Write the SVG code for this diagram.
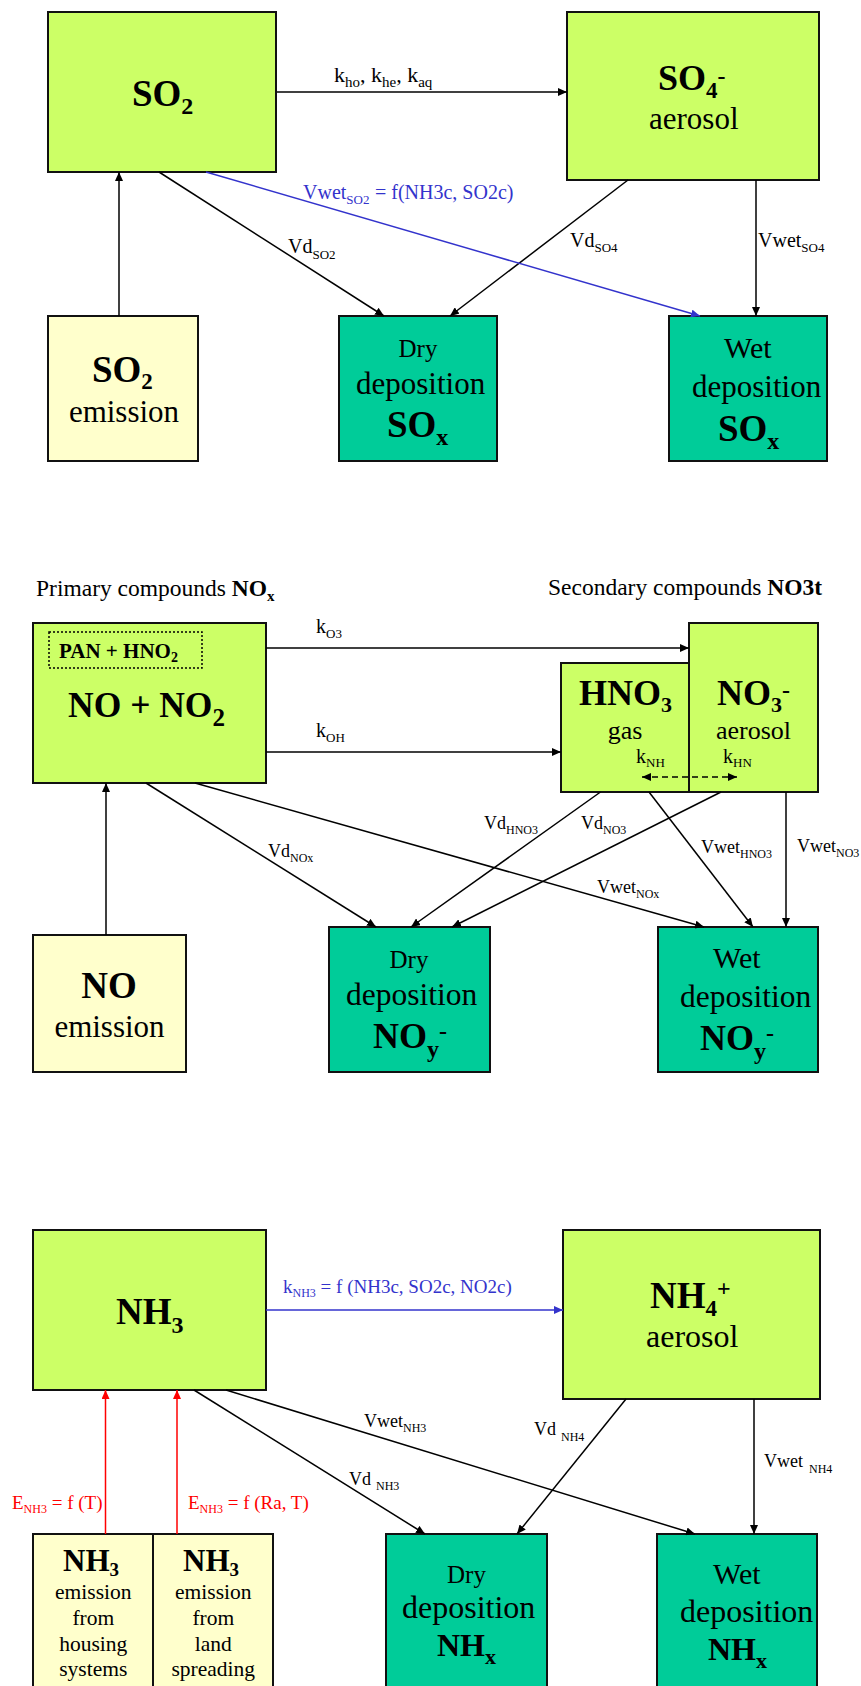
<svg xmlns="http://www.w3.org/2000/svg" width="861" height="1686" viewBox="0 0 861 1686">
<style>
text{font-family:"Liberation Serif","Times New Roman",serif;fill:#000}
.b{font-weight:bold}
.box{stroke:#111;stroke-width:2}
.g{fill:#CCFF66}.t{fill:#00CC99}.y{fill:#FFFFCC}
.ln{stroke:#000;stroke-width:1.5;fill:none}
.bl{stroke:#3333CC;stroke-width:1.5;fill:none}
.rd{stroke:#FF0000;stroke-width:1.5;fill:none}
.l20{font-size:20px}.l18{font-size:18px}.l19{font-size:19px}
.s13{font-size:13px}.s12{font-size:12px}
.blt{fill:#3333CC}.rdt{fill:#FF0000}
.m{text-anchor:middle}
</style>
<defs>
<marker id="ah" viewBox="0 0 9 8" refX="9" refY="4" markerWidth="9" markerHeight="8" markerUnits="userSpaceOnUse" orient="auto-start-reverse"><path d="M0,0 L9,4 L0,8 z" fill="#000"/></marker>
<marker id="ahb" viewBox="0 0 9 8" refX="9" refY="4" markerWidth="9" markerHeight="8" markerUnits="userSpaceOnUse" orient="auto"><path d="M0,0 L9,4 L0,8 z" fill="#3333CC"/></marker>
<marker id="ahr" viewBox="0 0 9 8" refX="9" refY="4" markerWidth="9" markerHeight="8" markerUnits="userSpaceOnUse" orient="auto"><path d="M0,0 L9,4 L0,8 z" fill="#FF0000"/></marker>
</defs>
<rect width="861" height="1686" fill="#fff"/>

<!-- Section 1 nodes -->
<g id="so2"><rect class="box g" x="48" y="12" width="228" height="160"/><text class="b" x="132" y="106" font-size="37">SO<tspan dy="8" font-size="24">2</tspan></text></g>
<g id="so4"><rect class="box g" x="567" y="12" width="252" height="168"/><text class="b" x="658" y="90" font-size="36">SO<tspan dy="8" font-size="23">4</tspan><tspan dy="-14" font-size="24">-</tspan></text><text x="649" y="129" font-size="31">aerosol</text></g>
<g id="so2emis"><rect class="box y" x="48" y="316" width="150" height="145"/><text class="b" x="92" y="382" font-size="37">SO<tspan dy="7" font-size="23">2</tspan></text><text class="m" x="124" y="422" font-size="31">emission</text></g>
<g id="drysox"><rect class="box t" x="339" y="316" width="158" height="145"/><text class="m" x="418" y="357" font-size="25">Dry</text><text x="356" y="394" font-size="31">deposition</text><text class="b" x="387" y="437" font-size="37">SO<tspan dy="8" font-size="24">x</tspan></text></g>
<g id="wetsox"><rect class="box t" x="669" y="316" width="158" height="145"/><text x="724" y="358" font-size="30">Wet</text><text x="692" y="397" font-size="31">deposition</text><text class="b" x="718" y="441" font-size="37">SO<tspan dy="8" font-size="24">x</tspan></text></g>

<!-- Section 2 nodes -->
<g id="headers"><text x="36" y="596" font-size="23.5">Primary compounds <tspan class="b">NO</tspan><tspan class="b" dy="5" font-size="15">x</tspan></text><text x="548" y="595" font-size="23.5">Secondary compounds <tspan class="b">NO3t</tspan></text></g>
<g id="nox"><rect class="box g" x="33" y="623" width="233" height="160"/><rect x="49" y="632" width="153" height="36" fill="none" stroke="#000" stroke-width="1.5" stroke-dasharray="2,2"/><text class="b" x="59" y="658" font-size="21">PAN + HNO<tspan dy="4" font-size="14">2</tspan></text><text class="b" x="68" y="717" font-size="35.5">NO + NO<tspan dy="9" font-size="25">2</tspan></text></g>
<g id="hno3"><rect class="box g" x="561" y="663" width="128" height="129"/><text class="b" x="579" y="705" font-size="36">HNO<tspan dy="7" font-size="22">3</tspan></text><text class="m" x="625" y="739" font-size="26">gas</text><text class="l20" x="636" y="763">k<tspan class="s13" dy="4">NH</tspan></text></g>
<g id="no3"><rect class="box g" x="689" y="623" width="129" height="169"/><text class="b" x="717" y="705" font-size="36">NO<tspan dy="7" font-size="22">3</tspan><tspan dy="-14" font-size="24">-</tspan></text><text x="716" y="739" font-size="26">aerosol</text><text class="l20" x="723" y="763">k<tspan class="s13" dy="4">HN</tspan></text></g>
<g id="noemis"><rect class="box y" x="33" y="935" width="153" height="137"/><text class="b m" x="109" y="998" font-size="37">NO</text><text class="m" x="109.5" y="1037" font-size="31">emission</text></g>
<g id="drynoy"><rect class="box t" x="329" y="927" width="161" height="145"/><text class="m" x="409" y="968" font-size="25">Dry</text><text x="346" y="1005" font-size="31.5">deposition</text><text class="b" x="373" y="1048" font-size="36">NO<tspan dy="9" font-size="24">y</tspan><tspan dy="-18" font-size="24">-</tspan></text></g>
<g id="wetnoy"><rect class="box t" x="658" y="927" width="160" height="145"/><text x="713" y="968" font-size="30">Wet</text><text x="680" y="1007" font-size="31.5">deposition</text><text class="b" x="700" y="1050" font-size="36">NO<tspan dy="9" font-size="24">y</tspan><tspan dy="-18" font-size="24">-</tspan></text></g>

<!-- Section 3 nodes -->
<g id="nh3"><rect class="box g" x="33" y="1230" width="233" height="160"/><text class="b" x="116" y="1324" font-size="37">NH<tspan dy="9" font-size="24">3</tspan></text></g>
<g id="nh4"><rect class="box g" x="563" y="1230" width="257" height="169"/><text class="b" x="650" y="1308" font-size="37">NH<tspan dy="8" font-size="23">4</tspan><tspan dy="-20" font-size="24">+</tspan></text><text x="646" y="1347" font-size="32">aerosol</text></g>
<g id="nh3house"><rect class="box y" x="33" y="1534" width="120" height="160"/><text class="b" x="63" y="1571" font-size="31">NH<tspan dy="5" font-size="19">3</tspan></text><text class="m" x="93.3" y="1599" font-size="21.5">emission</text><text class="m" x="93.3" y="1624.5" font-size="21.5">from</text><text class="m" x="93.3" y="1650.5" font-size="21.5">housing</text><text class="m" x="93.3" y="1676" font-size="21.5">systems</text></g>
<g id="nh3land"><rect class="box y" x="153" y="1534" width="120" height="160"/><text class="b" x="183" y="1571" font-size="31">NH<tspan dy="5" font-size="19">3</tspan></text><text class="m" x="213.3" y="1599" font-size="21.5">emission</text><text class="m" x="213.3" y="1624.5" font-size="21.5">from</text><text class="m" x="213.3" y="1650.5" font-size="21.5">land</text><text class="m" x="213.3" y="1676" font-size="21.5">spreading</text></g>
<g id="drynhx"><rect class="box t" x="386" y="1534" width="161" height="160"/><text class="m" x="466.5" y="1583" font-size="25">Dry</text><text x="402" y="1618" font-size="32">deposition</text><text class="b" x="437" y="1656" font-size="32">NH<tspan dy="8" font-size="22">x</tspan></text></g>
<g id="wetnhx"><rect class="box t" x="657" y="1534" width="160" height="160"/><text x="713" y="1584" font-size="30">Wet</text><text x="680" y="1622" font-size="32">deposition</text><text class="b" x="708" y="1660" font-size="32">NH<tspan dy="8" font-size="22">x</tspan></text></g>

<!-- Connectors -->
<g id="connectors">
<line class="ln" x1="277" y1="92" x2="567" y2="92" marker-end="url(#ah)"/>
<line class="ln" x1="119" y1="316" x2="119" y2="172" marker-end="url(#ah)"/>
<line class="ln" x1="159" y1="172" x2="384" y2="316" marker-end="url(#ah)"/>
<line class="ln" x1="628" y1="180" x2="450" y2="316" marker-end="url(#ah)"/>
<line class="ln" x1="756" y1="180" x2="756" y2="316" marker-end="url(#ah)"/>
<line class="bl" x1="206" y1="172" x2="700" y2="316" marker-end="url(#ahb)"/>

<line class="ln" x1="266" y1="648" x2="689" y2="648" marker-end="url(#ah)"/>
<line class="ln" x1="266" y1="752" x2="561" y2="752" marker-end="url(#ah)"/>
<line class="ln" x1="642" y1="777" x2="737" y2="777" stroke-dasharray="6,4" marker-start="url(#ah)" marker-end="url(#ah)"/>
<line class="ln" x1="106" y1="935" x2="106" y2="783" marker-end="url(#ah)"/>
<line class="ln" x1="146" y1="783" x2="376" y2="927" marker-end="url(#ah)"/>
<line class="ln" x1="195" y1="783" x2="704" y2="927" marker-end="url(#ah)"/>
<line class="ln" x1="600.5" y1="792" x2="411" y2="927" marker-end="url(#ah)"/>
<line class="ln" x1="721" y1="792" x2="452" y2="927" marker-end="url(#ah)"/>
<line class="ln" x1="649" y1="792" x2="753" y2="927" marker-end="url(#ah)"/>
<line class="ln" x1="786" y1="792" x2="786" y2="927" marker-end="url(#ah)"/>

<line class="bl" x1="266" y1="1310" x2="563" y2="1310" marker-end="url(#ahb)"/>
<line class="rd" x1="105.5" y1="1534" x2="105.5" y2="1390" marker-end="url(#ahr)"/>
<line class="rd" x1="177" y1="1534" x2="177" y2="1390" marker-end="url(#ahr)"/>
<line class="ln" x1="194" y1="1390" x2="425" y2="1534" marker-end="url(#ah)"/>
<line class="ln" x1="226" y1="1390" x2="695" y2="1534" marker-end="url(#ah)"/>
<line class="ln" x1="626" y1="1399" x2="517" y2="1534" marker-end="url(#ah)"/>
<line class="ln" x1="754" y1="1399" x2="754" y2="1534" marker-end="url(#ah)"/>

<!-- labels section 1 -->
<text x="334" y="82" font-size="22">k<tspan dy="5" font-size="15">ho</tspan><tspan dy="-5">, k</tspan><tspan dy="5" font-size="15">he</tspan><tspan dy="-5">, k</tspan><tspan dy="5" font-size="15">aq</tspan></text>
<text class="l20 blt" x="303" y="199">Vwet<tspan class="s13" dy="5">SO2</tspan></text>
<text class="l20 blt" x="375" y="199">= f(NH3c, SO2c)</text>
<text class="l20" x="288" y="253">Vd<tspan class="s13" dy="6">SO2</tspan></text>
<text class="l20" x="570" y="247">Vd<tspan class="s13" dy="5">SO4</tspan></text>
<text class="l20" x="758" y="247">Vwet<tspan class="s13" dy="5">SO4</tspan></text>

<!-- labels section 2 -->
<text class="l20" x="316" y="633">k<tspan class="s13" dy="5">O3</tspan></text>
<text class="l20" x="316" y="737">k<tspan class="s13" dy="5">OH</tspan></text>
<text class="l18" x="268" y="857">Vd<tspan class="s12" dy="5">NOx</tspan></text>
<text class="l18" x="597" y="893">Vwet<tspan class="s12" dy="5">NOx</tspan></text>
<text class="l18" x="484" y="829">Vd<tspan class="s12" dy="5">HNO3</tspan></text>
<text class="l18" x="581" y="829">Vd<tspan class="s12" dy="5">NO3</tspan></text>
<text class="l18" x="701" y="853">Vwet<tspan class="s12" dy="5">HNO3</tspan></text>
<text class="l18" x="797" y="852">Vwet<tspan class="s12" dy="5">NO3</tspan></text>

<!-- labels section 3 -->
<text class="l19 blt" x="283" y="1293">k<tspan class="s12" dy="4">NH3</tspan><tspan dy="-4"> = f (NH3c, SO2c, NO2c)</tspan></text>
<text class="l19 rdt" x="12" y="1509">E<tspan class="s12" dy="4">NH3</tspan><tspan dy="-4"> = f (T)</tspan></text>
<text class="l19 rdt" x="188" y="1509">E<tspan class="s12" dy="4">NH3</tspan><tspan dy="-4"> = f (Ra, T)</tspan></text>
<text class="l18" x="349" y="1485">Vd<tspan class="s12" x="376" dy="5">NH3</tspan></text>
<text class="l18" x="364" y="1427">Vwet<tspan class="s12" dy="5">NH3</tspan></text>
<text class="l18" x="534" y="1435">Vd<tspan class="s12" x="561" dy="6">NH4</tspan></text>
<text class="l18" x="764" y="1467">Vwet<tspan class="s12" x="809" dy="6">NH4</tspan></text>
</g>
</svg>
